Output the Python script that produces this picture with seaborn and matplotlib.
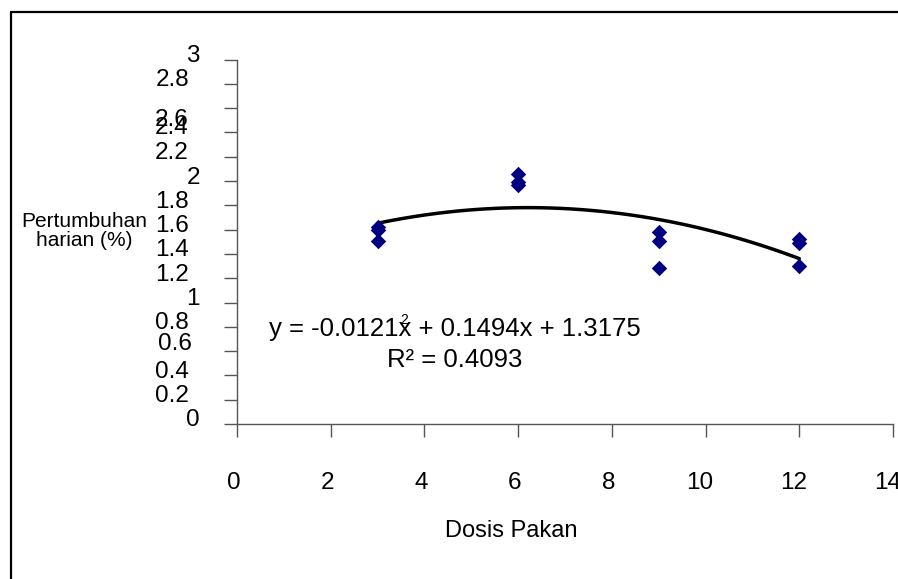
import numpy as np
import pandas as pd
import matplotlib
matplotlib.use("Agg")
import matplotlib.pyplot as plt
import seaborn as sns
from matplotlib.lines import Line2D

# data
dosis = [3, 3, 3, 6, 6, 6, 9, 9, 9, 12, 12, 12]
growth = [1.62, 1.60, 1.51, 2.06, 1.99, 1.97, 1.58, 1.51, 1.28, 1.52, 1.49, 1.30]

x_ticks = [0, 2, 4, 6, 8, 10, 12, 14]
y_ticks = [0, 0.2, 0.4, 0.6, 0.8, 1, 1.2, 1.4, 1.6, 1.8, 2, 2.2, 2.4, 2.6, 2.8, 3]
y_tick_labels = ["0", "0.2", "0.4", "0.6", "0.8", "1", "1.2", "1.4", "1.6",
                 "1.8", "2", "2.2", "2.4", "2.6", "2.8", "3"]

eq_head = "y = -0.0121"
eq_text = "y = -0.0121x + 0.1494x + 1.3175"
r2_text = "R² = 0.4093"

df = pd.DataFrame({"dosis": dosis, "growth": growth})

sns.set_style("white")
plt.rcParams["font.family"] = ["Liberation Sans", "DejaVu Sans"]
plt.rcParams["text.color"] = "black"
plt.rcParams["axes.labelcolor"] = "black"

W, H = 898, 579
fig = plt.figure(figsize=(W / 100, H / 100), dpi=100)
ax = fig.add_axes([237 / W, 155 / H, 656 / W, 364.5 / H])

sns.scatterplot(data=df, x="dosis", y="growth", marker="D", color="#000080",
                s=62, linewidth=0, ax=ax, zorder=3)
sns.regplot(data=df, x="dosis", y="growth", order=2, ci=None, scatter=False,
            color="black", line_kws={"lw": 2.5}, ax=ax)

ax.set_xlim(0, 14)
ax.set_ylim(0, 3)
ax.set_xticks(x_ticks)
ax.set_yticks(y_ticks)
ax.tick_params(direction="out", length=9.4, width=1, color="#555555",
               bottom=True, left=True, labelleft=False, labelbottom=False)
for side in ["top", "right"]:
    ax.spines[side].set_visible(False)
for side in ["left", "bottom"]:
    ax.spines[side].set_color("#555555")
    ax.spines[side].set_linewidth(1)

# tick labels, drawn by hand to copy the uneven excel placement
px = 0.72
for v, lab in zip(y_ticks, y_tick_labels):
    dx = -37 if "." not in lab else -48
    dy = -2.5
    if lab == "2.6":
        dy = -17.5
    elif lab == "2.4":
        dy = -1.5
    elif lab == "0.6":
        dx = -45
        dy = 1.5
    ax.annotate(lab, xy=(0, v), xycoords=("axes fraction", "data"),
                xytext=(dx * px, dy * px), textcoords="offset points",
                ha="right", va="baseline", fontsize=17.5, annotation_clip=False)

for v in x_ticks:
    lab = str(v)
    dx = -3.5 if len(lab) == 1 else -5.5
    ax.annotate(lab, xy=(v, 0), xycoords=("data", "axes fraction"),
                xytext=(dx * px, -65 * px), textcoords="offset points",
                ha="center", va="baseline", fontsize=17.5, annotation_clip=False)

ax.set_xlabel("Dosis Pakan", fontsize=17)
ax.xaxis.set_label_coords((511 - 237) / 656, (424 - 531) / 364.5)
ax.xaxis.label.set_va("center")
ax.set_ylabel("Pertumbuhan\nharian (%)", fontsize=15, rotation=0,
              ha="center", va="center", linespacing=0.95)
ax.yaxis.set_label_coords((84 - 237) / 656, (424 - 231) / 364.5)

# trend line equation
eq = fig.text(455 / W, 1 - 336 / H, eq_text, ha="center", va="baseline", fontsize=18.5)
fig.text(455 / W, 1 - 367 / H, r2_text, ha="center", va="baseline", fontsize=18.5)

# the excel "2" sits right above the first x, find where that x is
fig.canvas.draw()
r = fig.canvas.get_renderer()
full = eq.get_window_extent(r)
head = fig.text(0, 0, eq_head, fontsize=18.5)
hw = head.get_window_extent(r).width
head.remove()
xw = fig.text(0, 0, "x", fontsize=18.5)
xwidth = xw.get_window_extent(r).width
xw.remove()
x_center = full.x0 + hw + xwidth * 0.4
fig.text(x_center / W, 1 - 319.5 / H, "2", ha="center", va="center", fontsize=10)

# chart area border (cropped)
fig.add_artist(Line2D([11 / W, 11 / W], [0, 1 - 12 / H], color="black", lw=1.6))
fig.add_artist(Line2D([11 / W, 1], [1 - 12 / H, 1 - 12 / H], color="black", lw=1.6))

fig.savefig("out.png", dpi=100)
